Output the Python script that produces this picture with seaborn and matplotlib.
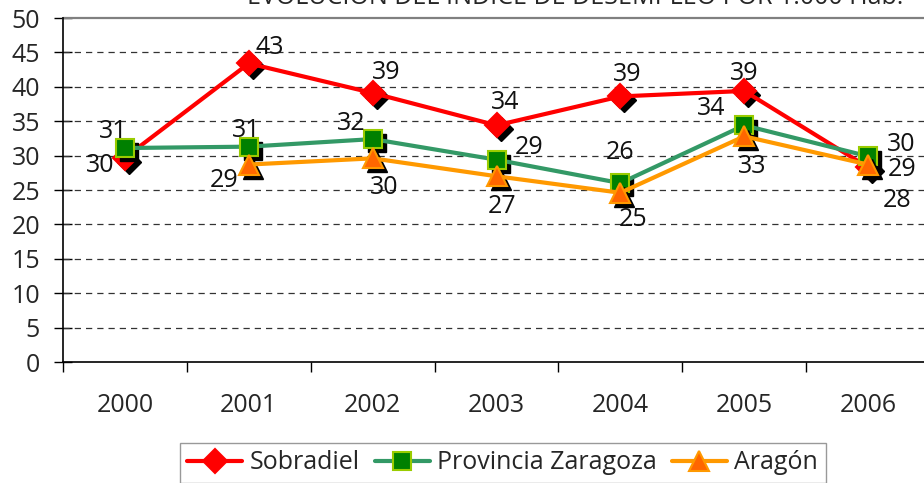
import numpy as np
import pandas as pd
import matplotlib
matplotlib.use("Agg")
import matplotlib.pyplot as plt
import matplotlib.transforms as mtransforms
import seaborn as sns

# Data
years = [2000, 2001, 2002, 2003, 2004, 2005, 2006]
sobradiel = [29.7, 43.4, 39.1, 34.4, 38.6, 39.4, 28.3]
provincia = [31.1, 31.3, 32.4, 29.4, 26.0, 34.4, 29.9]
aragon = [np.nan, 28.7, 29.6, 27.0, 24.6, 32.8, 28.7]
y_ticks = list(range(0, 51, 5))
title = "EVOLUCIÓN DEL ÍNDICE DE DESEMPLEO POR 1.000 Hab."

# label offsets in pixels (dx right, dy down)
sob_off = [(-25, 8), (21, -16), (14, -20), (9, -23), (7, -22), (0, -17), (29, 33)]
prov_off = [(-12, -17), (-3, -16), (-21, -16), (33, -12), (0, -31), (-33, -17), (33, -12)]
ara_off = [(0, 0), (-25, 16), (12, 29), (6, 30), (13, 27), (8, 30), (34, 5)]

sns.set_style("white")
plt.rcParams["font.family"] = ["Open Sans", "DejaVu Sans"]
FS = 18

fig = plt.figure(figsize=(9.24, 4.83), dpi=100)
ax = fig.add_axes([63 / 924, 121 / 483, 867 / 924, 344 / 483])

shadow = ax.transData + mtransforms.ScaledTranslation(0.04, -0.04, fig.dpi_scale_trans)

series = [
    ("Sobradiel", sobradiel, "#ff0000", "D", 12, "#ff0000", "#ff0000", sob_off),
    ("Provincia Zaragoza", provincia, "#339966", "s", 13, "#008000", "#99cc00", prov_off),
    ("Aragón", aragon, "#ff9900", "^", 15, "#ff6600", "#ff9900", ara_off),
]

df = pd.DataFrame({"year": years, "Sobradiel": sobradiel,
                   "Provincia Zaragoza": provincia, "Aragón": aragon})

for i, (name, vals, lc, mk, ms, fc, ec, offs) in enumerate(series):
    z = 3 + i * 3
    # black drop shadow of the markers
    ax.plot(years, vals, linestyle="none", marker=mk, markersize=ms,
            color="black", transform=shadow, zorder=z)
    sns.lineplot(data=df, x="year", y=name, ax=ax, color=lc, linewidth=3,
                 marker=mk, markersize=ms, markerfacecolor=fc,
                 markeredgecolor=ec, markeredgewidth=1.5, zorder=z + 1,
                 label=name, legend=False)
    for x, v, (dx, dy) in zip(years, vals, offs):
        if np.isnan(v):
            continue
        ax.annotate(f"{v:.0f}", (x, v), xytext=(dx, -dy),
                    textcoords="offset pixels", ha="center", va="center",
                    fontsize=FS, color="#111111", zorder=20)

ax.set_xlim(1999.5, 2006.5)
ax.set_ylim(0, 50)
ax.set_yticks(y_ticks)
ax.set_xticks(years)
ax.set_xticks(np.arange(1999.5, 2006.6, 1), minor=True)
ax.tick_params(axis="x", which="major", length=0, pad=22, labelsize=FS)
ax.tick_params(axis="x", which="minor", length=7, width=1, color="black",
               direction="out", bottom=True)
ax.tick_params(axis="y", length=13, width=1, color="black", direction="inout",
               left=True, pad=10, labelsize=FS)
ax.set_xlabel("")
ax.set_ylabel("")

for yv in y_ticks[1:-1]:
    ax.axhline(yv, color="#333333", linestyle=(0, (5, 4)), linewidth=0.9, zorder=1)
ax.axhline(50, color="#808080", linewidth=1.6, zorder=1, clip_on=False)

for s in ["top", "right"]:
    ax.spines[s].set_visible(False)
for s in ["left", "bottom"]:
    ax.spines[s].set_color("black")
    ax.spines[s].set_linewidth(1.2)

fig.text(575 / 924, 1 - 4 / 483, title, ha="center", va="baseline", fontsize=FS)

h, l = ax.get_legend_handles_labels()
h = [x for x, lab in zip(h, l) if lab in df.columns]
l = [lab for lab in l if lab in df.columns]
leg = fig.legend(h, l, loc="upper center", bbox_to_anchor=(0.544, 0.083),
                 ncol=3, frameon=True, fancybox=False, fontsize=FS,
                 handlelength=2.2, handletextpad=0.3, columnspacing=0.6,
                 borderaxespad=0, borderpad=0.3)
leg.get_frame().set_edgecolor("#808080")
leg.get_frame().set_linewidth(1)

fig.savefig("out.png", dpi=100)
